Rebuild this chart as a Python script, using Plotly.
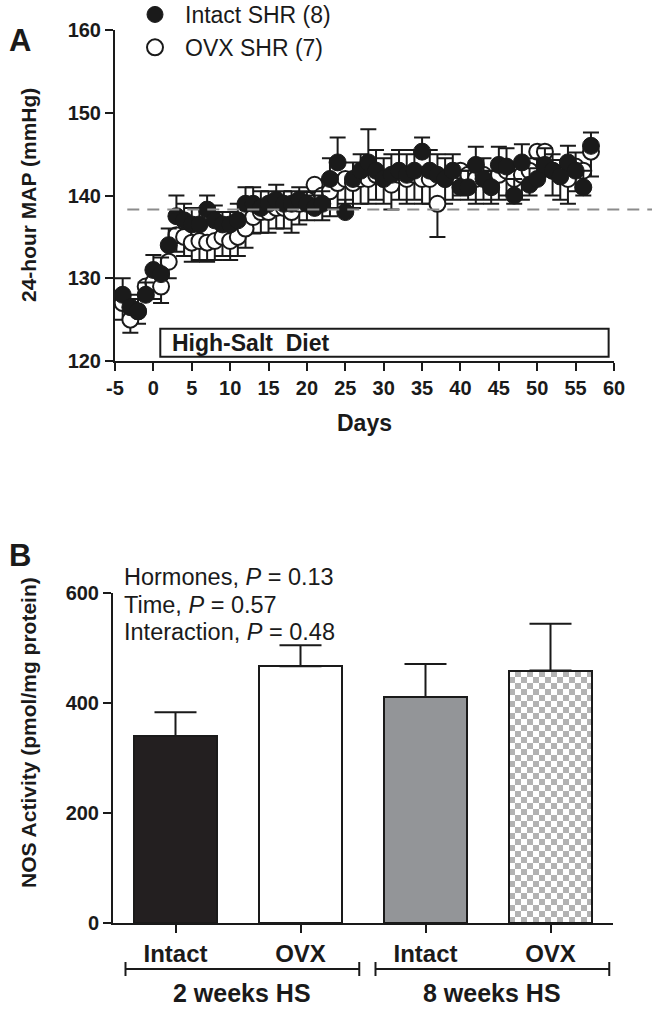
import plotly.graph_objects as go

# ---------------- Panel A data ----------------
days = list(range(-4, 58))
intact_map = [128, 126.5, 126, 128, 131, 130.5, 134, 137.5, 137, 136.5,
              136.5, 138.3, 137, 136.5, 136.5, 137, 139, 139, 138.5, 139,
              139.5, 139, 139, 139.5, 139, 138.5, 139, 142, 144, 138,
              142, 143, 144, 143, 142, 142.5, 143, 142.5, 143, 145.3,
              143, 142.5, 142, 143, 141, 141, 143.7, 142, 141, 143.7,
              143.5, 140, 144, 141.3, 142, 143.7, 143, 142.3, 144, 143,
              141, 146]
intact_sem = [2, 1.5, 1.5, 1.5, 1.8, 2, 2, 2.5, 2, 2,
              2, 1.7, 1.8, 1.5, 1.5, 2, 2, 2, 2, 1.5,
              1.8, 1.5, 1.5, 1.5, 1.5, 1.5, 1.5, 2.5, 3, 1.5,
              2, 2, 4, 2.5, 2.5, 2.5, 2.5, 2.5, 2.5, 1.7,
              2.5, 2.5, 2.5, 2, 2, 2, 2.2, 2.5, 2, 2.2,
              2.2, 2, 2.2, 2, 2.5, 2, 2, 2, 2, 2.2,
              2, 1.6]
ovx_map = [127, 125, 126, 129, 129.5, 129, 132, 135.2, 135, 134.3,
           134.5, 134.3, 134.5, 135, 134.5, 135, 136, 137.4, 138, 138,
           138.5, 138.5, 138, 139, 139.5, 141.3, 140, 140.5, 141.5, 142,
           141.5, 142, 142, 142.5, 142, 141.3, 142.5, 142, 142.5, 142,
           142, 139, 142, 142.5, 143, 142.5, 142, 142.5, 142, 142.5,
           143, 142, 142.5, 143, 145.3, 145.3, 143, 142.5, 142, 143.5,
           143, 145.3]
ovx_sem = [2, 1.6, 1.5, 1.5, 2, 2, 2, 2, 2.3, 2.3,
           2.3, 2.3, 2.3, 2.3, 2.3, 2.3, 2.3, 2, 2.5, 2.5,
           2.5, 2.5, 2.5, 2.5, 2.5, 2.5, 3, 3, 3, 3,
           3, 3, 3, 3, 3, 3, 3, 3, 3, 3,
           3, 4, 3, 3, 3, 3, 3, 3, 3, 3,
           3, 3, 3, 3, 3, 3, 3, 3, 3, 3,
           3, 3]
baseline_map = 138.3
diet_start_day, diet_end_day = 0.9, 59.3
a_xticks = list(range(-5, 61, 5))
a_yticks = [120, 130, 140, 150, 160]

# ---------------- Panel B data ----------------
groups = ["Intact", "OVX", "Intact", "OVX"]
nos_mean = [340, 467, 411, 459]
nos_sem = [43, 38, 60, 85]
periods = ["2 weeks HS", "8 weeks HS"]
period_members = [(0, 1), (2, 3)]
b_yticks = [0, 200, 400, 600]
stats_lines = ["Hormones, <i>P</i> = 0.13", "Time, <i>P</i> = 0.57",
               "Interaction, <i>P</i> = 0.48"]

# ---------------- geometry helpers ----------------
W, H = 652, 1011
FONT = "Liberation Sans, Arial, sans-serif"
INK = "#1a1a1a"


def fx(p):
    return p / W


def fy(p):
    return 1 - p / H


xA_dom = [fx(115), fx(614)]
yA_dom = [fy(361), fy(30)]
xB_dom = [fx(113), fx(613)]
yB_dom = [fy(923), fy(593)]
xA_rng = [-5, 60]


def day_to_paper(d):
    return xA_dom[0] + (d - xA_rng[0]) / (xA_rng[1] - xA_rng[0]) * (xA_dom[1] - xA_dom[0])


fig = go.Figure()

# Panel A traces (OVX drawn first, Intact on top)
fig.add_trace(go.Scatter(
    x=days, y=ovx_map, mode="markers", name="OVX SHR (7)", legendrank=2,
    marker=dict(symbol="circle", size=16, color="white", line=dict(color=INK, width=2)),
    error_y=dict(type="data", symmetric=False, array=[0] * len(ovx_sem), arrayminus=ovx_sem,
                 color=INK, thickness=2, width=8),
    xaxis="x", yaxis="y"))
fig.add_trace(go.Scatter(
    x=days, y=intact_map, mode="markers", name="Intact SHR (8)", legendrank=1,
    marker=dict(symbol="circle", size=17, color=INK, line=dict(color=INK, width=1)),
    error_y=dict(type="data", symmetric=False, array=intact_sem, arrayminus=[0] * len(intact_sem),
                 color=INK, thickness=2, width=8),
    xaxis="x", yaxis="y"))

# Panel B bars
solid_fills = ["#231f20", "#ffffff", "#939598", "#ffffff"]
for i in range(len(groups)):
    marker = dict(color=solid_fills[i], line=dict(color=INK, width=2))
    bar_kwargs = dict(x=[i], y=[nos_mean[i]], width=0.67, showlegend=False,
                      error_y=dict(type="data", symmetric=False, array=[nos_sem[i]], arrayminus=[0],
                                   color=INK, thickness=2, width=21),
                      xaxis="x2", yaxis="y2")
    if i == 3:
        try:
            m = dict(marker)
            m["pattern"] = dict(path="M0,0H6V6H0ZM6,6H12V12H6Z", size=12,
                                fgcolor="#b3b3b3", bgcolor="#ffffff", fillmode="replace")
            tr = go.Bar(marker=m, **bar_kwargs)
        except Exception:
            m = dict(marker)
            m["pattern"] = dict(shape=".", size=8, solidity=0.45,
                                fgcolor="#b3b3b3", bgcolor="#ffffff", fillmode="replace")
            tr = go.Bar(marker=m, **bar_kwargs)
    else:
        tr = go.Bar(marker=marker, **bar_kwargs)
    fig.add_trace(tr)

axis_common = dict(showline=True, linecolor=INK, linewidth=2, ticks="outside", ticklen=8,
                   tickwidth=2, tickcolor=INK, showgrid=False, zeroline=False, fixedrange=True,
                   automargin=False)

fig.update_layout(
    width=W, height=H, margin=dict(l=0, r=0, t=0, b=0, pad=0, autoexpand=False),
    paper_bgcolor="white", plot_bgcolor="white",
    font=dict(family=FONT, color=INK),
    bargap=0,
    xaxis=dict(domain=xA_dom, range=xA_rng, tickvals=a_xticks, ticktext=[str(v) for v in a_xticks],
               anchor="y", tickfont=dict(family=FONT, size=20, weight="bold", color=INK), **axis_common),
    yaxis=dict(domain=yA_dom, range=[120, 160], tickvals=a_yticks, anchor="x",
               tickfont=dict(family=FONT, size=20, weight="bold", color=INK), **axis_common),
    xaxis2=dict(domain=xB_dom, range=[-0.5, 3.5], tickvals=list(range(len(groups))), ticktext=groups,
                anchor="y2", tickfont=dict(family=FONT, size=24, weight="bold", color=INK), **axis_common),
    yaxis2=dict(domain=yB_dom, range=[0, 600], tickvals=b_yticks, anchor="x2",
                tickfont=dict(family=FONT, size=20, weight="bold", color=INK), **axis_common),
    legend=dict(x=fx(125), y=fy(-7), xanchor="left", yanchor="top", bgcolor="rgba(0,0,0,0)",
                borderwidth=0, font=dict(family=FONT, size=23, color=INK), itemsizing="trace",
                itemwidth=50, tracegroupgap=0),
)

shapes = []
# baseline dashed line
shapes.append(dict(type="line", xref="paper", yref="y", x0=day_to_paper(-3.4), x1=1.0,
                   y0=baseline_map, y1=baseline_map, line=dict(color="#8c8c8c", width=2, dash="12px,8px")))
# high-salt diet box
shapes.append(dict(type="rect", xref="x", yref="y", x0=diet_start_day, x1=diet_end_day,
                   y0=120.5, y1=123.9, line=dict(color=INK, width=2), fillcolor="white", layer="below"))
# period brackets
br_y, br_h = fy(969), 7 / H
for (c0, c1) in period_members:
    xl, xr = c0 - 0.40, c1 + 0.47
    shapes.append(dict(type="line", xref="x2", yref="paper", x0=xl, x1=xr, y0=br_y, y1=br_y,
                       line=dict(color=INK, width=2)))
    for xe in (xl, xr):
        shapes.append(dict(type="line", xref="x2", yref="paper", x0=xe, x1=xe,
                           y0=br_y - br_h, y1=br_y + br_h, line=dict(color=INK, width=2)))
fig.update_layout(shapes=shapes)


def A(text, x, y, size, xref="paper", yref="paper", xanchor="center", yanchor="middle", angle=0):
    return dict(text=text, x=x, y=y, xref=xref, yref=yref, xanchor=xanchor, yanchor=yanchor,
                textangle=angle, showarrow=False, font=dict(size=size, family=FONT, color=INK))


ann = [
    A("<b>A</b>", fx(7), fy(41), 31, xanchor="left"),
    A("<b>B</b>", fx(7), fy(555), 31, xanchor="left"),
    A("<b>24-hour MAP (mmHg)</b>", fx(28), fy(195), 21, angle=-90),
    A("<b>Days</b>", fx(364), fy(423), 23),
    A("<b>High-Salt\u00a0 Diet</b>", 2.1, 122.2, 23, xref="x", yref="y", xanchor="left"),
    A("<b>NOS Activity (pmol/mg protein)</b>", fx(28), fy(733), 21, angle=-90),
]
for k, line in enumerate(stats_lines):
    ann.append(A(line, fx(122), fy(577 + 27.5 * k), 23.5, xanchor="left"))
for p, (c0, c1) in zip(periods, period_members):
    ann.append(A("<b>" + p + "</b>", ((c0 - 0.40) + (c1 + 0.47)) / 2, fy(993), 25, xref="x2"))
fig.update_layout(annotations=ann)

fig.write_html("out.html", config={"displayModeBar": False},
               post_script="document.body.style.margin='0px';")
